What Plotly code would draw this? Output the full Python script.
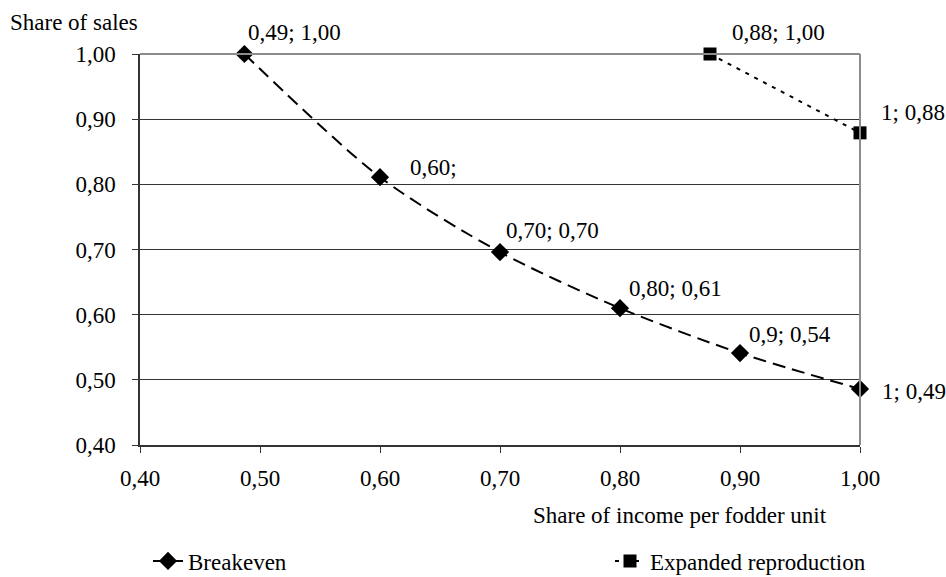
import plotly.graph_objects as go

# Data
breakeven_x = [0.487, 0.60, 0.70, 0.80, 0.90, 1.00]
breakeven_y = [1.00, 0.811, 0.696, 0.61, 0.541, 0.486]
breakeven_labels = ["0,49; 1,00", "0,60;", "0,70; 0,70", "0,80; 0,61", "0,9; 0,54", "1; 0,49"]

expanded_x = [0.875, 1.00]
expanded_y = [1.00, 0.879]
expanded_labels = ["0,88; 1,00", "1; 0,88"]

x_ticks = [0.40, 0.50, 0.60, 0.70, 0.80, 0.90, 1.00]
y_ticks = [0.40, 0.50, 0.60, 0.70, 0.80, 0.90, 1.00]

# label offsets in pixels (style only)
breakeven_label_dx = [2, 28, 4, 7, 7, 20]
breakeven_label_dy = [22, 10, 22, 20, 19, -3]
expanded_label_dx = [20, 19]
expanded_label_dy = [22, 20]

FONT = "Liberation Serif, Times New Roman, serif"
FS = 23

fig = go.Figure()
fig.add_trace(go.Scatter(
    x=breakeven_x, y=breakeven_y, mode="lines+markers", name="Breakeven",
    line=dict(color="black", width=2, dash="13px,7px", shape="spline", smoothing=0.8),
    marker=dict(symbol="diamond", size=14, color="black"),
    cliponaxis=False, legend="legend",
))
fig.add_trace(go.Scatter(
    x=expanded_x, y=expanded_y, mode="lines+markers", name="Expanded reproduction",
    line=dict(color="black", width=2, dash="4px,6px", shape="spline"),
    marker=dict(symbol="square", size=13, color="black"),
    cliponaxis=False, legend="legend2",
))

annotations = []
for xs, ys, labels, dxs, dys in [
    (breakeven_x, breakeven_y, breakeven_labels, breakeven_label_dx, breakeven_label_dy),
    (expanded_x, expanded_y, expanded_labels, expanded_label_dx, expanded_label_dy),
]:
    for xv, yv, t, dx, dy in zip(xs, ys, labels, dxs, dys):
        annotations.append(dict(
            x=xv, y=yv, xref="x", yref="y", text=t, showarrow=False,
            xanchor="left", yanchor="middle", xshift=dx, yshift=dy,
            font=dict(family=FONT, size=FS, color="black")))

PW = 720.0
PH = 391.0
legend_font = dict(family=FONT, size=FS, color="black")

annotations += [
    dict(text="Share of sales", xref="paper", yref="paper", x=-132 / PW, y=1.0,
         xanchor="left", yanchor="middle", yshift=32, showarrow=False,
         font=dict(family=FONT, size=FS, color="black")),
    dict(text="Share of income per fodder unit", xref="paper", yref="paper",
         x=(829 - 140) / PW, y=0, xanchor="right", yanchor="middle", yshift=-70,
         showarrow=False, font=dict(family=FONT, size=FS, color="black")),
]

fig.update_layout(
    width=946, height=577,
    margin=dict(l=140, r=86, t=54, b=132, autoexpand=False),
    paper_bgcolor="white", plot_bgcolor="white",
    separators=", ",
    font=dict(family=FONT, size=FS, color="black"),
    showlegend=True,
    legend=dict(orientation="h", x=(148 - 140) / PW, y=-(561 - 445) / PH,
                xanchor="left", yanchor="middle",
                font=legend_font, bgcolor="rgba(0,0,0,0)"),
    legend2=dict(orientation="h", x=(610 - 140) / PW, y=-(561 - 445) / PH,
                 xanchor="left", yanchor="middle",
                 font=legend_font, bgcolor="rgba(0,0,0,0)"),
    xaxis=dict(range=[0.40, 1.00], tickvals=x_ticks, tickformat=".2f",
               showgrid=False, zeroline=False, showline=True, linecolor="#333",
               linewidth=1.5, ticks="outside", ticklen=6, tickcolor="#333",
               ticklabelstandoff=6),
    yaxis=dict(range=[0.40, 1.00], tickvals=y_ticks, tickformat=".2f",
               showgrid=True, gridcolor="#333", gridwidth=1, zeroline=False,
               showline=True, linecolor="#333", linewidth=1.5,
               ticks="outside", ticklen=6, tickcolor="#333",
               ticklabelstandoff=12),
    shapes=[
        dict(type="line", xref="paper", yref="paper", x0=0, x1=1, y0=1, y1=1,
             line=dict(color="#8c8c8c", width=2), layer="above"),
        dict(type="line", xref="paper", yref="paper", x0=1, x1=1, y0=0, y1=1,
             line=dict(color="#8c8c8c", width=2), layer="above"),
    ],
    annotations=annotations,
)

fig.write_html(
    "out.html",
    config={"displayModeBar": False},
    post_script="document.body.style.margin='0';document.body.style.overflow='hidden';",
)
